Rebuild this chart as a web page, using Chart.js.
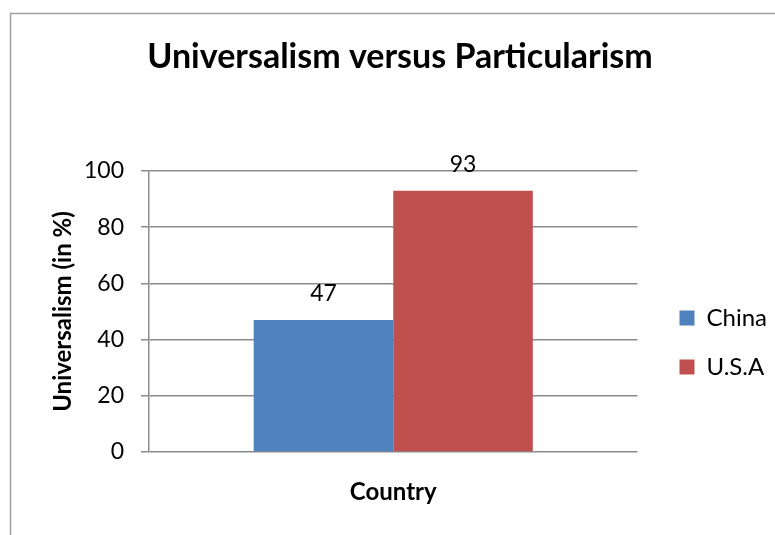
<!DOCTYPE html>
<html>
<head>
<meta charset="utf-8">
<script src="https://cdn.jsdelivr.net/npm/chart.js@4/dist/chart.umd.min.js"></script>
<style>
  html, body { margin: 0; padding: 0; background: #fff; }
  #wrap { width: 775px; height: 535px; }
</style>
</head>
<body>
<div id="wrap"><canvas id="chart" width="775" height="535"></canvas></div>
<script>
  const categories = [''];
  const seriesNames = ['China', 'U.S.A'];
  const chinaValues = [47];
  const usaValues = [93];
  const yTicks = [0, 20, 40, 60, 80, 100];

  const FONT = 'Lato, Carlito, Calibri, sans-serif';
  const GRID = '#8c8c8c';

  // frame round the chart (cut off on the right and bottom like the source)
  const framePlugin = {
      id: 'frame',
      beforeDraw: (chart) => {
          const ctx = chart.ctx;
          ctx.save();
          ctx.strokeStyle = '#a0a0a0';
          ctx.lineWidth = 1.5;
          ctx.beginPath();
          ctx.moveTo(10.5, 535);
          ctx.lineTo(10.5, 13.5);
          ctx.lineTo(775, 13.5);
          ctx.stroke();
          ctx.restore();
      }
  };

  // nudge legend and title to where Excel put them
  const nudgePlugin = {
      id: 'nudge',
      afterLayout: (chart) => {
          const lg = chart.legend;
          lg.left += 17; lg.right += 17;
          lg.top += 31; lg.bottom += 31;
          const tb = chart.titleBlock;
          tb.left += 20; tb.right += 20;
      }
  };

  // value labels above the bars
  const valueLabels = {
      id: 'valueLabels',
      afterDatasetsDraw: (chart) => {
          const ctx = chart.ctx;
          ctx.save();
          ctx.font = '23px ' + FONT;
          ctx.fillStyle = '#000';
          ctx.textAlign = 'center';
          ctx.textBaseline = 'alphabetic';
          chart.data.datasets.forEach((ds, i) => {
              chart.getDatasetMeta(i).data.forEach((bar, j) => {
                  ctx.fillText(String(ds.data[j]), bar.x, bar.y - 19);
              });
          });
          ctx.restore();
      }
  };

  const ctx = document.getElementById('chart').getContext('2d');
  new Chart(ctx, {
      type: 'bar',
      data: {
          labels: categories,
          datasets: [{
              label: seriesNames[0],
              data: chinaValues,
              backgroundColor: '#4f81bd',
              borderWidth: 0
          }, {
              label: seriesNames[1],
              data: usaValues,
              backgroundColor: '#c0504d',
              borderWidth: 0
          }]
      },
      options: {
          responsive: false,
          animation: false,
          layout: { padding: { left: 0, right: 15, top: 0, bottom: 28 } },
          datasets: {
              bar: { categoryPercentage: 0.5714, barPercentage: 1 }
          },
          plugins: {
              tooltip: { enabled: false },
              title: {
                  display: true,
                  text: 'Universalism versus Particularism',
                  color: '#000',
                  font: { family: FONT, size: 34, weight: 'bold' },
                  padding: { top: 36.6, bottom: 93.6 }
              },
              legend: {
                  position: 'right',
                  fullSize: false,
                  labels: {
                      color: '#000',
                      font: { family: FONT, size: 24 },
                      boxWidth: 15,
                      boxHeight: 15,
                      padding: 25
                  }
              }
          },
          scales: {
              x: {
                  ticks: { display: false },
                  grid: { display: false, drawTicks: false },
                  border: { display: false },
                  title: {
                      display: true,
                      text: 'Country',
                      color: '#000',
                      font: { family: FONT, size: 24, weight: 'bold' },
                      padding: { top: 26.2, bottom: 0 }
                  }
              },
              y: {
                  min: 0,
                  max: 100,
                  afterBuildTicks: (scale) => {
                      scale.ticks = yTicks.map(v => ({ value: v }));
                  },
                  afterFit: (scale) => { scale.width = 149; },
                  ticks: {
                      color: '#000',
                      font: { family: FONT, size: 23 },
                      padding: 17
                  },
                  grid: { color: GRID, lineWidth: 1.5, tickLength: 8 },
                  border: { color: GRID, width: 1.5 },
                  title: {
                      display: true,
                      text: 'Universalism (in %)',
                      color: '#000',
                      font: { family: FONT, size: 24, weight: 'bold' },
                      padding: { top: 48.6, bottom: 0 }
                  }
              }
          }
      },
      plugins: [framePlugin, nudgePlugin, valueLabels]
  });
</script>
</body>
</html>
